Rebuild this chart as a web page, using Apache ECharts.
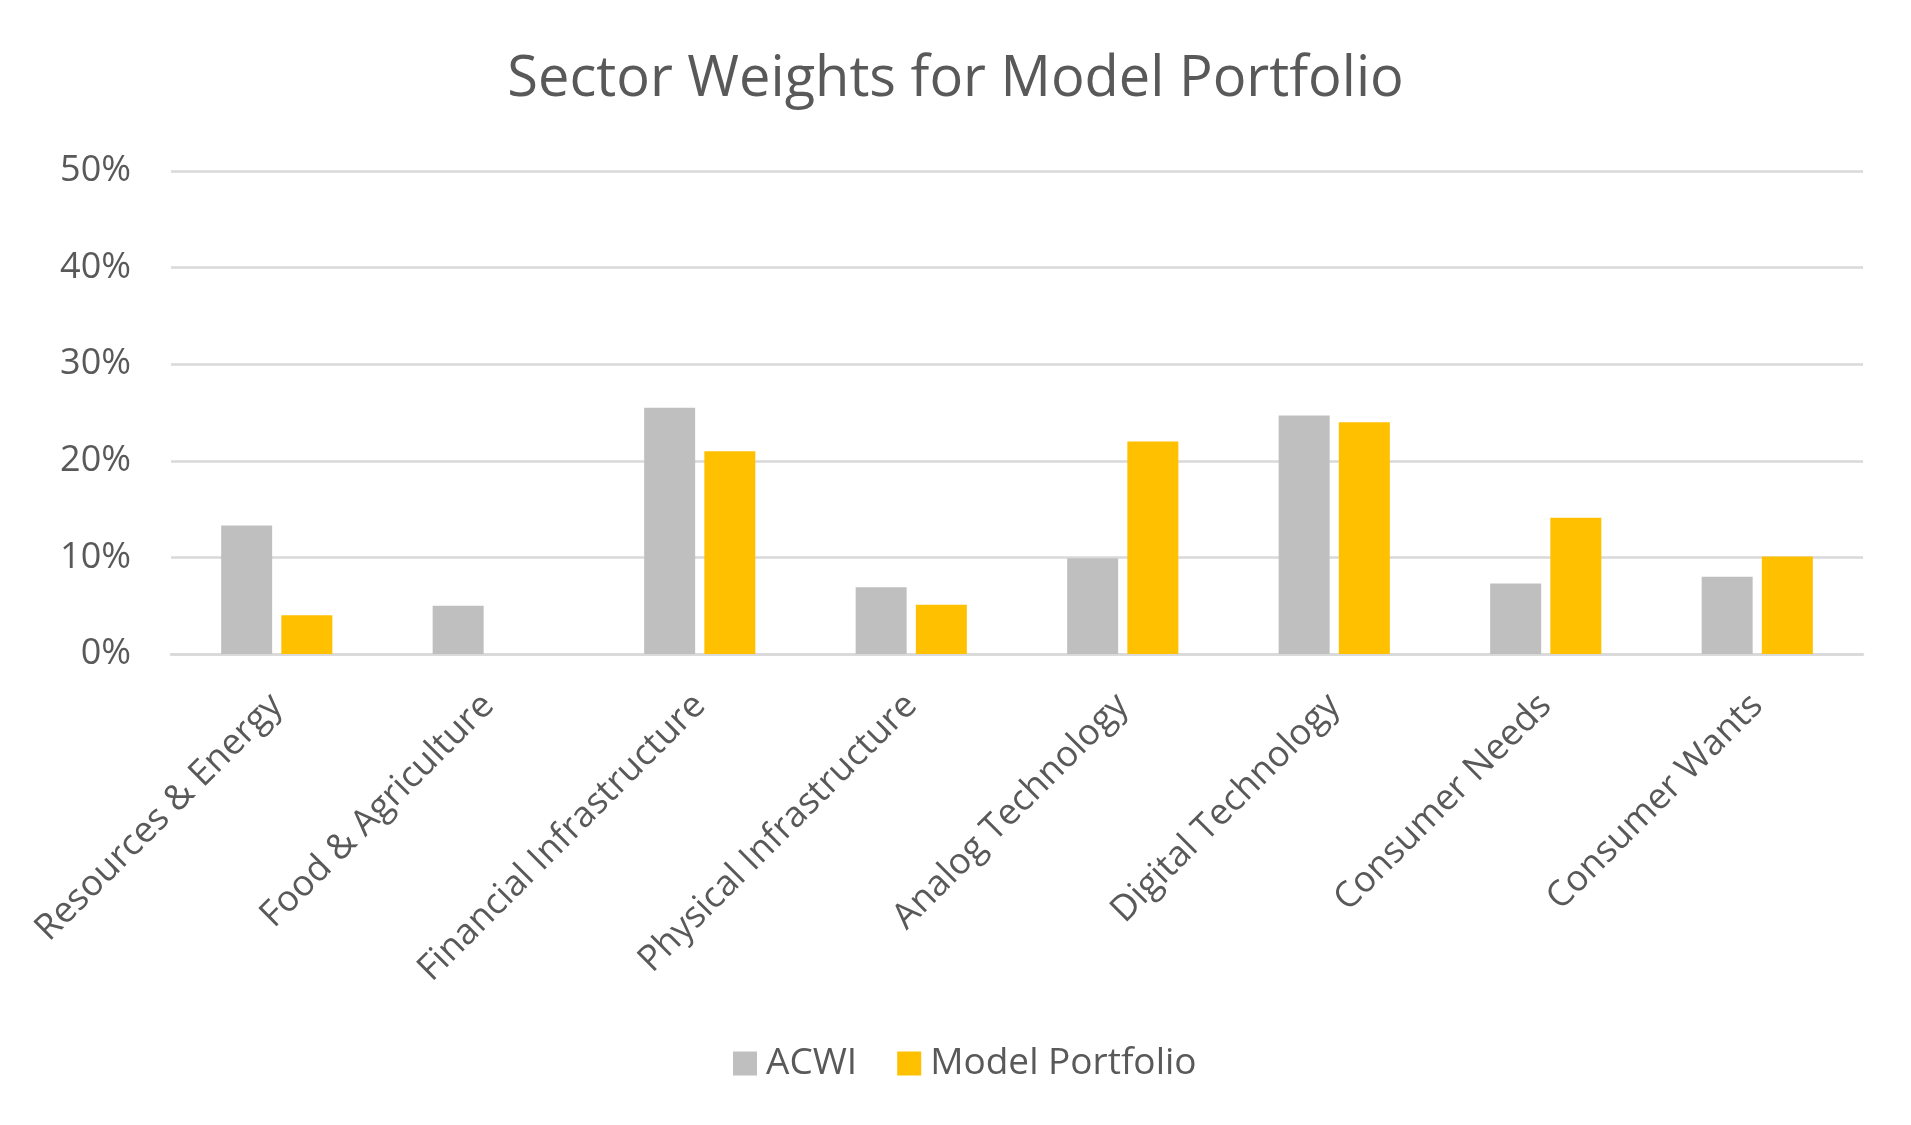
<!DOCTYPE html>
<html>
<head>
<meta charset="utf-8">
<script src="https://cdn.jsdelivr.net/npm/echarts@6/dist/echarts.min.js"></script>
<style>
html,body{margin:0;padding:0;background:#fff;}
#chart{width:1911px;height:1125px;}
</style>
</head>
<body>
<div id="chart"></div>
<script>
const titleText = 'Sector Weights for Model Portfolio';
const categories = ['Resources & Energy','Food & Agriculture','Financial Infrastructure','Physical Infrastructure','Analog Technology','Digital Technology','Consumer Needs','Consumer Wants'];
const seriesNames = ['ACWI','Model Portfolio'];
const acwi = [13.3, 5.0, 25.5, 6.9, 9.9, 24.7, 7.3, 8.0];
const modelPortfolio = [4.0, 0, 21.0, 5.1, 22.0, 24.0, 14.1, 10.1];
const yTicks = {min: 0, max: 50, interval: 10};

const FONT = '"Open Sans", sans-serif';
const TEXT = '#595959';
const chart = echarts.init(document.getElementById('chart'));
chart.setOption({
  backgroundColor: '#ffffff',
  animation: false,
  title: {
    text: titleText,
    left: 'center',
    top: 47,
    textStyle: {fontFamily: FONT, fontSize: 56, fontWeight: 'normal', color: TEXT}
  },
  legend: {
    data: seriesNames,
    left: 728,
    top: 1040,
    icon: 'rect',
    itemWidth: 24,
    itemHeight: 24,
    itemGap: 40,
    textStyle: {fontFamily: FONT, fontSize: 37, color: TEXT, padding: [0,0,0,4]}
  },
  grid: {left: 171, right: 48, top: 171, bottom: 471, containLabel: false},
  xAxis: {
    type: 'category',
    data: categories,
    axisLine: {lineStyle: {color: '#d9d9d9', width: 2.5}},
    axisTick: {show: false},
    axisLabel: {
      interval: 0,
      rotate: 45,
      margin: 46,
      fontFamily: FONT,
      fontSize: 36,
      color: TEXT
    }
  },
  yAxis: {
    type: 'value',
    min: yTicks.min,
    max: yTicks.max,
    interval: yTicks.interval,
    axisLine: {show: false},
    axisTick: {show: false},
    splitLine: {lineStyle: {color: '#d9d9d9', width: 2.5}},
    axisLabel: {
      formatter: '{value}%',
      margin: 40,
      fontFamily: FONT,
      fontSize: 36,
      color: TEXT
    }
  },
  series: [
    {name: seriesNames[0], type: 'bar', data: acwi, barWidth: 51, barGap: '18%', itemStyle: {color: '#BFBFBF'}},
    {name: seriesNames[1], type: 'bar', data: modelPortfolio, barWidth: 51, itemStyle: {color: '#FFC000'}}
  ]
});
</script>
</body>
</html>
